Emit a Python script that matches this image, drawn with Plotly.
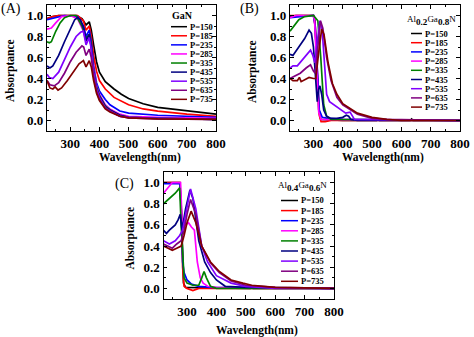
import plotly.graph_objects as go

W, H = 474, 337
SERIF = "Liberation Serif"

labels = ["P=150", "P=185", "P=235", "P=285", "P=335", "P=435", "P=535", "P=635", "P=735"]
colors = ["#000000", "#ff0000", "#0000ff", "#ff00ff", "#008000",
          "#000080", "#8000ff", "#800080", "#800000"]

x_ticks = [300, 400, 500, 600, 700, 800]
y_ticks = [0.0, 0.2, 0.4, 0.6, 0.8, 1.0]

# ---------------- (A) GaN ----------------
gan_wl = [
    [220, 240, 260, 300, 320, 340, 354, 365, 372, 380, 390, 400, 420, 450, 475, 500, 550, 600, 650, 700, 750, 800],
    [220, 240, 260, 300, 325, 345, 354, 365, 372, 380, 390, 400, 420, 450, 500, 550, 600, 700, 800],
    [220, 235, 260, 280, 325, 345, 354, 365, 372, 380, 390, 400, 420, 436, 470, 500, 600, 700, 800],
    [220, 235, 250, 270, 300, 325, 345, 354, 365, 372, 380, 390, 400, 420, 436, 470, 500, 600, 800],
    [220, 228, 235, 250, 265, 280, 300, 320, 340, 354, 365, 372, 380, 390, 400, 420, 436, 470, 500, 600, 800],
    [220, 230, 240, 260, 280, 300, 315, 325, 335, 346, 354, 365, 372, 380, 390, 400, 420, 436, 470, 500, 600, 800],
    [220, 228, 240, 260, 280, 300, 320, 335, 345, 354, 365, 372, 380, 390, 400, 420, 436, 470, 500, 600, 800],
    [220, 230, 245, 260, 280, 300, 320, 340, 346, 354, 365, 372, 380, 390, 400, 420, 436, 470, 500, 600, 800],
    [220, 230, 240, 248, 258, 270, 290, 310, 330, 345, 354, 365, 372, 380, 390, 400, 420, 436, 470, 500, 600, 800],
]
gan_abs = [
    [0.97, 0.99, 1.0, 1.0, 1.0, 0.97, 0.91, 0.94, 0.86, 0.72, 0.56, 0.46, 0.37, 0.30, 0.25, 0.21, 0.16, 0.125, 0.11, 0.09, 0.075, 0.06],
    [0.97, 0.99, 1.0, 1.0, 1.0, 0.95, 0.86, 0.90, 0.80, 0.62, 0.47, 0.38, 0.30, 0.22, 0.15, 0.11, 0.09, 0.06, 0.04],
    [0.96, 0.97, 0.99, 1.0, 0.99, 0.90, 0.80, 0.86, 0.75, 0.52, 0.36, 0.28, 0.20, 0.15, 0.09, 0.07, 0.05, 0.04, 0.03],
    [0.87, 0.88, 0.93, 0.99, 1.0, 0.97, 0.85, 0.75, 0.80, 0.70, 0.50, 0.33, 0.25, 0.15, 0.11, 0.06, 0.04, 0.03, 0.02],
    [0.75, 0.74, 0.75, 0.85, 0.93, 0.98, 1.0, 1.0, 0.90, 0.78, 0.82, 0.72, 0.48, 0.32, 0.24, 0.14, 0.10, 0.05, 0.03, 0.02, 0.01],
    [0.52, 0.50, 0.52, 0.62, 0.75, 0.88, 0.96, 0.98, 0.96, 0.88, 0.76, 0.82, 0.70, 0.47, 0.30, 0.23, 0.13, 0.10, 0.05, 0.03, 0.02, 0.01],
    [0.44, 0.41, 0.40, 0.46, 0.58, 0.70, 0.80, 0.84, 0.85, 0.72, 0.79, 0.68, 0.46, 0.30, 0.22, 0.12, 0.09, 0.04, 0.03, 0.02, 0.01],
    [0.38, 0.34, 0.33, 0.36, 0.45, 0.56, 0.65, 0.71, 0.70, 0.62, 0.68, 0.60, 0.42, 0.28, 0.20, 0.12, 0.09, 0.04, 0.025, 0.015, 0.01],
    [0.38, 0.31, 0.30, 0.32, 0.29, 0.31, 0.38, 0.46, 0.54, 0.57, 0.51, 0.57, 0.51, 0.38, 0.26, 0.19, 0.11, 0.08, 0.04, 0.025, 0.015, 0.01],
]

# ---------------- (B) Al0.2Ga0.8N ----------------
al02_wl = [
    [220, 240, 300, 305, 312, 318, 325, 400, 515, 520, 525, 630, 635, 640, 800],
    [220, 300, 306, 313, 320, 326, 340, 360, 800],
    [220, 300, 306, 313, 320, 330, 350, 400, 800],
    [220, 240, 300, 304, 311, 318, 326, 800],
    [220, 235, 250, 270, 300, 315, 325, 335, 345, 360, 800],
    [220, 230, 250, 270, 285, 293, 300, 308, 313, 318, 322, 328, 335, 345, 360, 380, 400, 412, 420, 428, 450, 800],
    [220, 230, 245, 260, 275, 290, 298, 305, 313, 322, 330, 338, 345, 355, 380, 410, 425, 432, 440, 800],
    [220, 235, 255, 275, 290, 300, 306, 315, 324, 332, 345, 360, 380, 400, 450, 500, 550, 800],
    [220, 230, 245, 252, 258, 270, 285, 300, 308, 318, 328, 336, 350, 365, 380, 400, 450, 500, 550, 600, 800],
]
al02_abs = [
    [0.99, 1.0, 1.0, 0.95, 0.50, 0.10, 0.01, 0.0, 0.0, 0.015, 0.0, 0.0, 0.015, 0.0, 0.0],
    [1.0, 1.0, 0.90, 0.40, 0.05, -0.01, -0.01, 0.0, 0.0],
    [0.98, 1.0, 0.90, 0.45, 0.10, 0.03, 0.02, 0.01, 0.0],
    [0.98, 1.0, 1.0, 0.95, 0.50, 0.08, 0.01, 0.0],
    [0.85, 0.90, 0.96, 0.99, 1.0, 0.95, 0.60, 0.15, 0.04, 0.01, 0.0],
    [0.63, 0.62, 0.70, 0.78, 0.86, 0.83, 0.70, 0.35, 0.18, 0.30, 0.33, 0.25, 0.10, 0.04, 0.02, 0.02, 0.03, 0.05, 0.04, 0.01, 0.0, 0.0],
    [0.50, 0.52, 0.52, 0.57, 0.62, 0.67, 0.62, 0.55, 0.75, 0.95, 0.85, 0.50, 0.25, 0.18, 0.13, 0.07, 0.08, 0.05, 0.01, 0.0],
    [0.40, 0.42, 0.45, 0.50, 0.53, 0.47, 0.45, 0.70, 0.95, 0.88, 0.60, 0.38, 0.22, 0.15, 0.06, 0.02, 0.01, 0.0],
    [0.40, 0.38, 0.38, 0.41, 0.37, 0.39, 0.41, 0.40, 0.40, 0.65, 0.87, 0.82, 0.55, 0.35, 0.25, 0.16, 0.07, 0.03, 0.01, 0.0, 0.0],
]

# ---------------- (C) Al0.4Ga0.6N ----------------
al04_wl = [
    [220, 275, 280, 284, 288, 295, 515, 520, 525, 800],
    [220, 276, 281, 285, 290, 300, 320, 330, 340, 800],
    [220, 276, 281, 285, 290, 300, 315, 340, 380, 800],
    [220, 235, 250, 278, 283, 295, 305, 315, 325, 335, 345, 355, 370, 400, 800],
    [220, 240, 260, 275, 280, 290, 300, 320, 340, 350, 358, 366, 380, 400, 800],
    [220, 230, 240, 260, 270, 277, 283, 295, 310, 320, 340, 360, 380, 400, 430, 500, 800],
    [220, 240, 260, 275, 285, 298, 312, 330, 350, 370, 400, 450, 500, 600, 800],
    [220, 250, 265, 280, 290, 300, 312, 330, 350, 380, 410, 450, 500, 600, 800],
    [220, 250, 265, 280, 290, 300, 314, 330, 350, 380, 410, 450, 490, 520, 600, 800],
]
al04_abs = [
    [1.0, 1.0, 0.80, 0.30, 0.05, 0.01, 0.0, 0.015, 0.0, 0.0],
    [1.0, 1.0, 0.70, 0.20, 0.02, 0.0, -0.02, -0.01, 0.0, 0.0],
    [0.99, 0.99, 0.70, 0.25, 0.15, 0.08, 0.04, 0.02, 0.01, 0.0],
    [0.90, 0.95, 1.0, 1.0, 0.65, 0.60, 0.62, 0.58, 0.55, 0.25, 0.10, 0.05, 0.02, 0.01, 0.0],
    [0.80, 0.85, 0.90, 0.95, 0.60, 0.10, 0.05, 0.03, 0.03, 0.10, 0.16, 0.10, 0.02, 0.0, 0.0],
    [0.55, 0.52, 0.55, 0.60, 0.65, 0.70, 0.55, 0.75, 0.93, 0.85, 0.45, 0.25, 0.15, 0.08, 0.02, 0.01, 0.0],
    [0.45, 0.42, 0.45, 0.50, 0.55, 0.75, 0.94, 0.75, 0.40, 0.25, 0.12, 0.05, 0.02, 0.0, 0.0],
    [0.42, 0.38, 0.42, 0.45, 0.55, 0.70, 0.84, 0.70, 0.40, 0.24, 0.15, 0.07, 0.03, 0.01, 0.0],
    [0.40, 0.36, 0.38, 0.40, 0.50, 0.62, 0.73, 0.62, 0.40, 0.25, 0.16, 0.08, 0.05, 0.03, 0.01, 0.0],
]


def alloy_title(a, b):
    small = "<span style='font-size:9px'>%s</span>"
    return (small % "Al") + "<sub><b>%s</b></sub>" % a + (small % "Ga") + \
        "<sub><b>%s</b></sub>" % b + (small % "N")


panels = [
    dict(wl=gan_wl, ab=gan_abs, ax="", box=(47, 216, 5, 131), title="<b>GaN</b>", title_size=10,
         tag="(A)", tag_xy=(11, 9), ytitle_x=10, xtitle_y=157,
         leg=dict(title_xy=(182, 15.5), line=(171, 187), text_x=188, y0=26.7, dy=9.08)),
    dict(wl=al02_wl, ab=al02_abs, ax="2", box=(290, 460, 5, 131), title=alloy_title("0.2", "0.8"),
         title_size=13, tag="(B)", tag_xy=(249, 9), ytitle_x=252, xtitle_y=157,
         leg=dict(title_xy=(431, 20), line=(411, 422), text_x=423, y0=33.5, dy=9.2)),
    dict(wl=al04_wl, ab=al04_abs, ax="3", box=(163.5, 334, 172, 299), title=alloy_title("0.4", "0.6"),
         title_size=13, tag="(C)", tag_xy=(124, 184), ytitle_x=130, xtitle_y=330,
         leg=dict(title_xy=(302, 187), line=(281, 298), text_x=299, y0=200.5, dy=10.1)),
]


def px(x):
    return x / W


def py(y):
    return 1 - y / H


def label(text, x, y, size, xanchor="center", angle=0):
    return dict(text=text, x=px(x), y=py(y), xref="paper", yref="paper", showarrow=False,
                xanchor=xanchor, yanchor="middle", textangle=angle,
                font=dict(family=SERIF, size=size, color="black"))


fig = go.Figure()
annotations = []
shapes = []

for p in panels:
    xa = "x" + p["ax"]
    ya = "y" + p["ax"]
    for lab, col, xs, ys in zip(labels, colors, p["wl"], p["ab"]):
        fig.add_trace(go.Scatter(x=xs, y=ys, mode="lines", name=lab,
                                 line=dict(color=col, width=1.7),
                                 xaxis=xa, yaxis=ya, showlegend=False))
    x0, x1, y0, y1 = p["box"]
    minor = dict(ticks="inside", ticklen=2, tickwidth=1, tickcolor="black")
    axis_common = dict(showline=True, linecolor="black", linewidth=1.3, mirror="allticks",
                       ticks="inside", ticklen=3.5, tickwidth=1, tickcolor="black",
                       showgrid=False, zeroline=False, automargin=False,
                       tickfont=dict(family=SERIF, size=13, color="black", weight="bold"))
    fig.layout["xaxis" + p["ax"]] = dict(axis_common, domain=[px(x0), px(x1)], range=[220, 800],
                                         tickvals=x_ticks, anchor=ya,
                                         minor=dict(minor, dtick=50, tick0=200))
    fig.layout["yaxis" + p["ax"]] = dict(axis_common, domain=[py(y1), py(y0)], range=[-0.1, 1.1],
                                         tickvals=y_ticks, tickformat=".1f", anchor=xa,
                                         minor=dict(minor, dtick=0.1, tick0=0))
    # axis titles and panel tag
    annotations.append(label("<b>Wavelength(nm)</b>", (x0 + x1) / 2 + 8, p["xtitle_y"], 11.5))
    annotations.append(label("<b>Absorptance</b>", p["ytitle_x"], (y0 + y1) / 2 + 3, 11.5, angle=-90))
    annotations.append(label(p["tag"], p["tag_xy"][0], p["tag_xy"][1], 14))
    # legend block
    leg = p["leg"]
    annotations.append(label(p["title"], leg["title_xy"][0], leg["title_xy"][1], p["title_size"]))
    for i, (lab, col) in enumerate(zip(labels, colors)):
        yy = leg["y0"] + i * leg["dy"]
        shapes.append(dict(type="line", xref="paper", yref="paper",
                           x0=px(leg["line"][0]), x1=px(leg["line"][1]), y0=py(yy), y1=py(yy),
                           line=dict(color=col, width=1.5)))
        annotations.append(label("<b>" + lab + "</b>", leg["text_x"], yy, 8.5, xanchor="left"))

fig.update_layout(template="none", width=W, height=H, margin=dict(l=0, r=0, t=0, b=0, pad=0),
                  paper_bgcolor="white", plot_bgcolor="white",
                  annotations=annotations, shapes=shapes, showlegend=False)

fig.write_html("out.html")
